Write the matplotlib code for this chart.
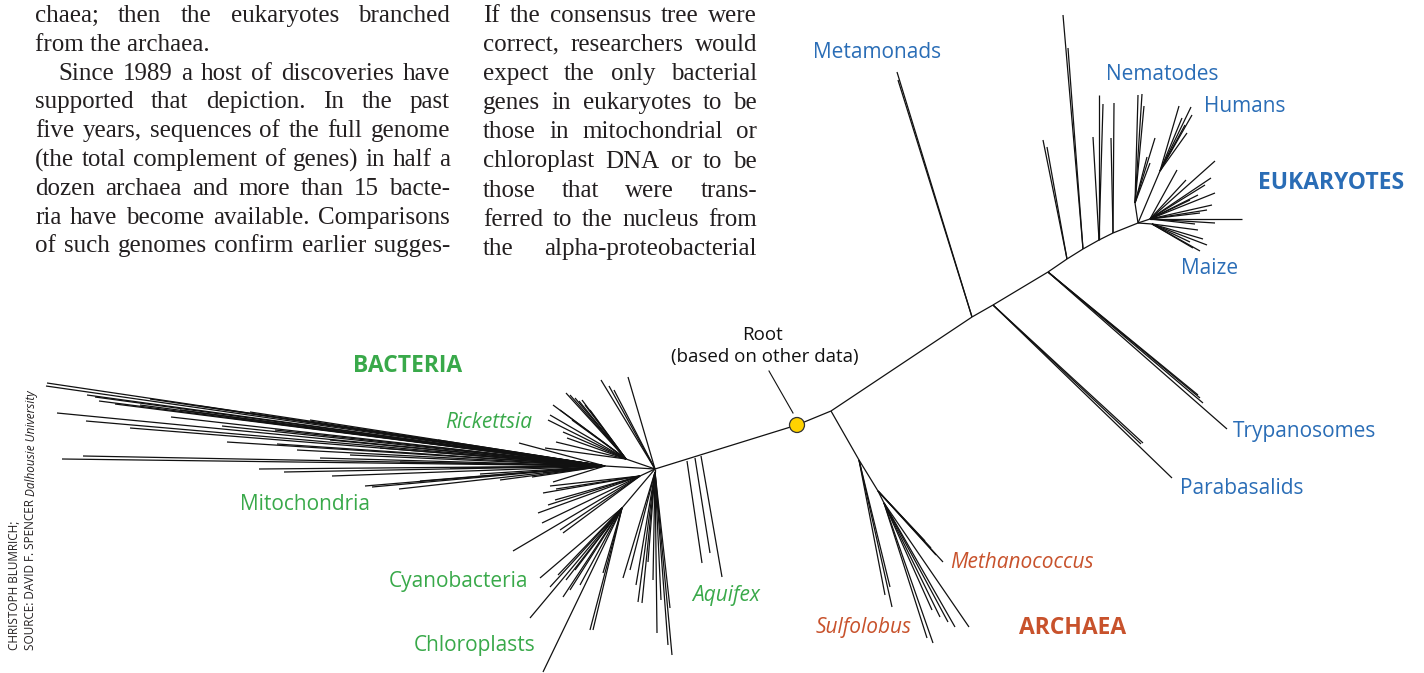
import matplotlib
matplotlib.use("Agg")
import matplotlib.pyplot as plt
from matplotlib.collections import LineCollection
from matplotlib.patches import Circle

W, H = 1424, 673

# ---- body text (two justified columns) ----
col1_lines = [
    "chaea; then the eukaryotes branched",
    "from the archaea.",
    "Since 1989 a host of discoveries have",
    "supported that depiction. In the past",
    "five years, sequences of the full genome",
    "(the total complement of genes) in half a",
    "dozen archaea and more than 15 bacte-",
    "ria have become available. Comparisons",
    "of such genomes confirm earlier sugges-",
]
col1_justify = [True, False, True, True, True, True, True, True, True]
col1_indent = [0, 0, 23, 0, 0, 0, 0, 0, 0]

col2_lines = [
    "If the consensus tree were",
    "correct, researchers would",
    "expect the only bacterial",
    "genes in eukaryotes to be",
    "those in mitochondrial or",
    "chloroplast DNA or to be",
    "those that were trans-",
    "ferred to the nucleus from",
    "the alpha-proteobacterial",
]

# ---- tree: backbone nodes (bacteria hub -> root -> eukaryote crown) ----
backbone = [(655, 469), (797, 425), (831, 411), (972, 317), (993, 305),
            (1048, 272), (1067, 259), (1083, 249), (1099, 240), (1113, 233),
            (1138, 223)]
root_pt = (797, 425)
root_leader = [(769, 371), (793, 413)]

# clades: (attach point, inner node, tips)
bacteria_clades = [
    ((655, 469), (655, 469), [(628, 377), (601, 380), (609, 386), (614, 390)]),
    ((655, 469), (626, 459), [(570, 395), (575, 398), (579, 401), (553, 405),
                              (560, 410), (550, 415), (548, 420), (563, 432),
                              (567, 438), (545, 448), (556, 442), (585, 405),
                              (590, 410), (572, 420), (566, 393), (582, 400)]),
    ((655, 469), (605, 466), [(47, 383), (46, 386), (87, 395), (95, 397),
                              (99, 401), (115, 404), (57, 413), (86, 421),
                              (171, 417), (222, 426), (227, 442), (62, 459),
                              (83, 456), (259, 469), (284, 472), (332, 476),
                              (365, 486), (372, 487), (399, 489), (438, 440),
                              (277, 444), (297, 450), (150, 399), (200, 406),
                              (250, 412), (310, 420), (130, 428), (350, 455),
                              (400, 462), (450, 468), (480, 474), (500, 480),
                              (420, 481), (320, 458), (519, 443), (532, 477),
                              (543, 473), (553, 482), (180, 410), (140, 405),
                              (230, 418), (275, 430), (330, 440), (380, 448)]),
    ((655, 469), (640, 476), [(543, 493), (550, 486), (556, 489), (538, 513),
                              (542, 523), (560, 530), (563, 533), (513, 551),
                              (548, 505), (555, 500)]),
    ((655, 469), (622, 508), [(540, 578), (550, 587), (558, 575), (563, 597),
                              (530, 618), (543, 672), (590, 630), (593, 630),
                              (603, 573), (570, 590), (580, 585), (575, 570),
                              (566, 580)]),
    ((655, 469), (655, 472), [(623, 578), (630, 570), (638, 602), (642, 603),
                              (648, 562), (657, 633), (668, 645), (672, 655),
                              (670, 608), (653, 580), (661, 600), (636, 585)]),
]
aquifex_bases = [(687, 461), (695, 458), (701, 456)]
aquifex_tips = [(702, 563), (710, 553), (722, 577)]

archaea_clades = [
    ((831, 411), (859, 460), [(885, 595), (890, 587), (892, 607)]),
    ((859, 460), (878, 491), [(925, 541), (931, 548), (936, 555), (943, 562)]),
    ((878, 491), (884, 503), [(932, 610), (940, 617), (955, 627), (969, 627),
                              (927, 638), (933, 643), (948, 622)]),
]

eukaryote_clades = [
    ((972, 317), (972, 317), [(897, 72), (898, 80)]),
    ((993, 305), (993, 305), [(1141, 444), (1143, 443), (1172, 478)]),
    ((1048, 272), (1048, 272), [(1198, 395), (1203, 403), (1200, 398), (1227, 429)]),
    ((1067, 259), (1067, 259), [(1043, 140), (1047, 147)]),
    ((1083, 249), (1083, 249), [(1063, 15), (1068, 48)]),
    ((1099, 240), (1099, 240), [(1093, 137), (1099, 95), (1103, 104)]),
    ((1113, 233), (1113, 233), [(1114, 103), (1111, 138)]),
    ((1138, 223), (1135, 203), [(1138, 95), (1142, 94), (1144, 106), (1147, 157),
                                (1150, 163), (1155, 138)]),
    ((1138, 223), (1160, 171), [(1179, 106), (1191, 107), (1192, 115),
                                (1187, 133), (1182, 118), (1185, 125)]),
    ((1138, 223), (1150, 219), [(1215, 161), (1177, 170), (1211, 178),
                                (1205, 185), (1215, 193), (1198, 195),
                                (1212, 205), (1207, 210), (1200, 213),
                                (1242, 219), (1215, 223), (1195, 224),
                                (1186, 180), (1190, 200)]),
    ((1138, 223), (1152, 224), [(1198, 230), (1207, 245), (1203, 239),
                                (1200, 251), (1193, 248), (1190, 242)]),
]

GREEN = "#39a94a"
BLUE = "#2a6db6"
RUST = "#c8522c"

labels = [
    ("Metamonads", 877, 52, BLUE, "normal", "normal", 15),
    ("Nematodes", 1162, 74, BLUE, "normal", "normal", 15),
    ("Humans", 1245, 106, BLUE, "normal", "normal", 15),
    ("EUKARYOTES", 1331, 183, BLUE, "bold", "normal", 16.5),
    ("Maize", 1210, 269, BLUE, "normal", "normal", 15),
    ("Trypanosomes", 1305, 432, BLUE, "normal", "normal", 15),
    ("Parabasalids", 1242, 488, BLUE, "normal", "normal", 15),
    ("Methanococcus", 1022, 563, RUST, "normal", "italic", 15),
    ("ARCHAEA", 1073, 628, RUST, "bold", "normal", 16.5),
    ("Sulfolobus", 864, 627, RUST, "normal", "italic", 15),
    ("BACTERIA", 408, 366, GREEN, "bold", "normal", 16.5),
    ("Rickettsia", 489, 423, GREEN, "normal", "italic", 15),
    ("Mitochondria", 305, 505, GREEN, "normal", "normal", 15),
    ("Cyanobacteria", 458, 582, GREEN, "normal", "normal", 15),
    ("Aquifex", 726, 595, GREEN, "normal", "italic", 15),
    ("Chloroplasts", 475, 646, GREEN, "normal", "normal", 15),
]

SANS = ["Open Sans", "DejaVu Sans"]
SERIF = ["Liberation Serif", "DejaVu Serif"]

fig = plt.figure(figsize=(W / 100, H / 100), dpi=100)
ax = fig.add_axes([0, 0, 1, 1])
ax.set_xlim(0, W)
ax.set_ylim(H, 0)
ax.axis("off")
renderer = fig.canvas.get_renderer()


def set_line(words, x0, x1, y, justify):
    kw = dict(family=SERIF, fontsize=18, color="#231f20", va="center", ha="left")
    if not justify:
        ax.text(x0, y, " ".join(words), **kw)
        return
    texts = [ax.text(0, y, w, **kw) for w in words]
    widths = [t.get_window_extent(renderer).width for t in texts]
    gap = (x1 - x0 - sum(widths)) / (len(words) - 1)
    x = x0
    for t, w in zip(texts, widths):
        t.set_x(x)
        x += w + gap


for i, line in enumerate(col1_lines):
    set_line(line.split(), 35 + col1_indent[i], 450, 16 + i * 28.8, col1_justify[i])
for i, line in enumerate(col2_lines):
    set_line(line.split(), 483, 757, 16 + i * 29.1, True)

# tree segments
segs = [list(zip(backbone[:-1], backbone[1:]))]
for attach, node, tips in bacteria_clades + archaea_clades + eukaryote_clades:
    s = []
    if attach != node:
        s.append([attach, node])
    s += [[node, t] for t in tips]
    segs.append(s)
segs.append([[b, t] for b, t in zip(aquifex_bases, aquifex_tips)])
all_segs = [seg for group in segs for seg in group]
ax.add_collection(LineCollection(all_segs, colors="#111111", linewidths=0.9))
ax.plot(*zip(*root_leader), color="#111111", lw=0.8)
ax.add_patch(Circle(root_pt, 7.5, facecolor="#ffd200", edgecolor="#333333", lw=0.9, zorder=5))

ax.text(763, 335, "Root", family=SANS, fontsize=13.5, ha="center", va="center", color="#111111")
ax.text(765, 357, "(based on other data)", family=SANS, fontsize=13.5, ha="center", va="center", color="#111111")

for txt, x, y, c, wt, st, fs in labels:
    ax.text(x, y, txt, family=SANS, fontsize=fs, color=c, fontweight=wt, fontstyle=st,
            ha="center", va="center")

# rotated credit line
ax.text(15, 650, "CHRISTOPH BLUMRICH;", family=SANS, fontsize=8.5, rotation=90,
        rotation_mode="anchor", ha="left", va="center", color="#231f20")
t = ax.text(31, 650, "SOURCE: DAVID F. SPENCER ", family=SANS, fontsize=8.5, rotation=90,
            rotation_mode="anchor", ha="left", va="center", color="#231f20")
h = t.get_window_extent(renderer).height
ax.text(31, 650 - h, "Dalhousie University", family=SANS, fontsize=8.5, rotation=90,
        fontstyle="italic", rotation_mode="anchor", ha="left", va="center", color="#231f20")

fig.savefig("out.png", dpi=100, facecolor="white")
